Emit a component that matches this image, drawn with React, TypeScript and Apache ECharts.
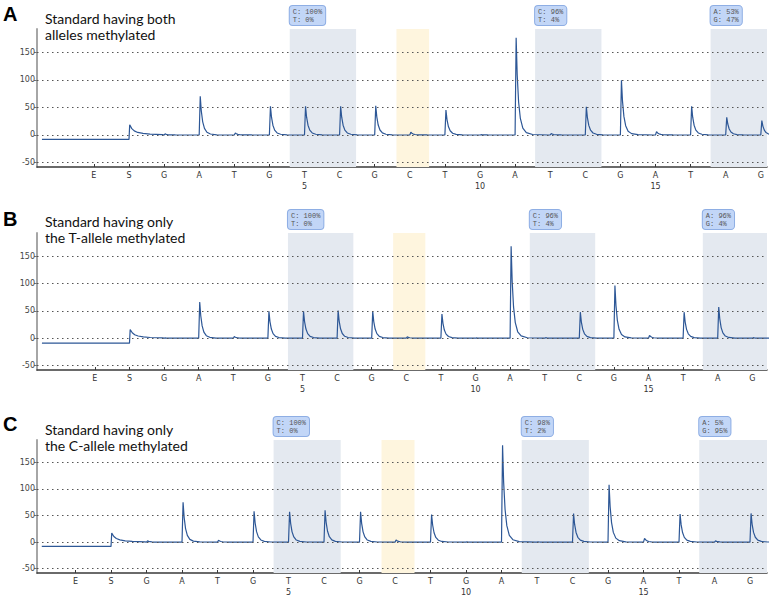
import React, { useEffect, useRef } from 'react';
import * as echarts from 'echarts';

// ---------- data ----------
const dispensationOrder = ['E', 'S', 'G', 'A', 'T', 'G', 'T', 'C', 'G', 'C', 'T', 'G', 'A', 'T', 'C', 'G', 'A', 'T', 'A', 'G'];
const dispensationPositions = [-1, 0, 1, 2, 3, 4, 5, 6, 7, 8, 9, 10, 11, 12, 13, 14, 15, 16, 17, 18];
const numberedPositions = [5, 10, 15];
const yTickValues = [-50, 0, 50, 100, 150];

// peak heights at positions S(0) .. G(18)
const peaksA = [18.5, 2, 70, 3.5, 52, 52, 52, 53, 5, 45, 0.5, 176, 2.4, 51, 99, 6, 52, 32, 26];
const peaksB = [16, 0.5, 66, 3, 49, 49, 50.5, 49, 2.5, 44, 0.5, 168, 1, 47.5, 96, 5, 47.5, 57, 1];
const peaksC = [17, 2.4, 75, 3.6, 58, 57, 60, 57, 4, 52, 0.5, 182, 0.5, 53.6, 108, 7, 53, 2.4, 54];

const baselineA = -8;
const baselineB = -9;
const baselineC = -8;

// peak shape (fraction of height at offset after dispensation)
const peakOffsets = [0, 0.03, 0.06, 0.1, 0.15, 0.22, 0.32, 0.5, 0.95];
const peakProfile = [0, 1, 0.62, 0.34, 0.17, 0.07, 0.025, 0.005, 0];
const substrateOffsets = [0, 0.02, 0.08, 0.15, 0.25, 0.4, 0.6, 0.95];
const substrateProfile = [0, 1, 0.62, 0.4, 0.25, 0.15, 0.08, 0.03];

const labelsA = ['C: 100%\nT: 0%', 'C: 96%\nT: 4%', 'A: 53%\nG: 47%'];
const labelsB = ['C: 100%\nT: 0%', 'C: 96%\nT: 4%', 'A: 96%\nG: 4%'];
const labelsC = ['C: 100%\nT: 0%', 'C: 98%\nT: 2%', 'A: 5%\nG: 95%'];

const grayRegionStarts = [4.58, 11.57, 16.57];
const grayRegionEnds = [6.47, 13.46, 99];
const orangeRegion = [7.62, 8.55];

// ---------- layout ----------
const Y_MIN = -58;
const Y_MAX = 192;

const panels = [
  { letter: 'A', title: 'Standard having both\nalleles methylated', top: 29, height: 138, xMin: -2.621, xMax: 18.177, traceStart: -2.48, peaks: peaksA, base: baselineA, labels: labelsA, letterY: 13.5, titleY: 14 },
  { letter: 'B', title: 'Standard having only\nthe T-allele methylated', top: 233, height: 137, xMin: -2.673, xMax: 18.425, traceStart: -2.53, peaks: peaksB, base: baselineB, labels: labelsB, letterY: 218.5, titleY: 217.5 },
  { letter: 'C', title: 'Standard having only\nthe C-allele methylated', top: 440, height: 137, xMin: -2.085, xMax: 18.479, traceStart: -1.95, peaks: peaksC, base: baselineC, labels: labelsC, letterY: 424, titleY: 425 },
];

function buildTrace(base: number, start: number, heights: number[]) {
  const pts: number[][] = [[start, base]];
  heights.forEach((h, i) => {
    const offs = i === 0 ? substrateOffsets : peakOffsets;
    const prof = i === 0 ? substrateProfile : peakProfile;
    pts.push([i, i === 0 ? base : 0]);
    for (let k = 1; k < offs.length; k++) pts.push([i + offs[k], h * prof[k]]);
  });
  return pts;
}

export default function App() {
  const ref = useRef<HTMLDivElement>(null);
  useEffect(() => {
    if (!ref.current) return;
    const chart = echarts.init(ref.current, null, { renderer: 'svg' });

    const grids: any[] = [];
    const xAxes: any[] = [];
    const yAxes: any[] = [];
    const series: any[] = [];
    const graphics: any[] = [];

    panels.forEach((p, idx) => {
      grids.push({ left: 37, top: p.top, width: 730, height: p.height });
      xAxes.push({
        type: 'value', gridIndex: idx, min: p.xMin, max: p.xMax,
        axisLine: { show: true, onZero: false, lineStyle: { color: '#3a3a3a', width: 1.5 } },
        axisTick: { show: true, inside: true, length: 3, customValues: dispensationPositions, lineStyle: { color: '#3a3a3a' } },
        axisLabel: {
          customValues: dispensationPositions, fontSize: 8, color: '#333', margin: 3, lineHeight: 11,
          fontFamily: 'DejaVu Sans',
          formatter: (v: number) => {
            const d = Math.round(v);
            const letter = dispensationOrder[d + 1];
            return numberedPositions.includes(d) ? letter + '\n' + d : letter;
          },
        },
        splitLine: { show: false },
      });
      yAxes.push({
        type: 'value', gridIndex: idx, min: Y_MIN, max: Y_MAX,
        axisLine: { show: true, onZero: false, lineStyle: { color: '#a6a6a6', width: 2 } },
        axisTick: { show: true, length: 3, customValues: yTickValues, lineStyle: { color: '#777' } },
        axisLabel: { customValues: yTickValues, fontSize: 8, color: '#444', margin: 2, fontFamily: 'DejaVu Sans' },
        splitLine: { show: false },
      });

      const areaData: any[] = grayRegionStarts.map((s, k) => [
        {
          xAxis: s, yAxis: Y_MIN,
          itemStyle: { color: '#e4e9f0' },
          label: {
            show: true, position: [0, -23], formatter: p.labels[k],
            fontFamily: 'Liberation Mono', fontSize: 7, lineHeight: 8, color: '#555',
            backgroundColor: '#c2d6f7', borderColor: '#8eaee4', borderWidth: 1, borderRadius: 3,
            padding: [2, 3, 1, 3],
          },
        },
        { xAxis: Math.min(grayRegionEnds[k], p.xMax), yAxis: Y_MAX },
      ]);
      areaData.push([
        { xAxis: orangeRegion[0], yAxis: Y_MIN, itemStyle: { color: '#fef5de' }, label: { show: false } },
        { xAxis: orangeRegion[1], yAxis: Y_MAX },
      ]);

      series.push({
        type: 'line', xAxisIndex: idx, yAxisIndex: idx, z: 1, data: [],
        showSymbol: false, silent: true,
        markArea: { silent: true, data: areaData },
      });
      series.push({
        type: 'line', xAxisIndex: idx, yAxisIndex: idx, z: 2, data: [],
        showSymbol: false, silent: true,
        markLine: {
          silent: true, symbol: ['none', 'none'], label: { show: false },
          lineStyle: { type: [1.5, 3.5], color: '#555', width: 1 },
          data: yTickValues.map((v) => ({ yAxis: v })),
        },
      });
      series.push({
        type: 'line', xAxisIndex: idx, yAxisIndex: idx, z: 3,
        data: buildTrace(p.base, p.traceStart, p.peaks),
        showSymbol: false, symbol: 'none', clip: true,
        lineStyle: { color: '#2d5796', width: 1.2 },
      });

      graphics.push({
        type: 'text', left: 3, top: p.letterY - 10,
        style: { text: p.letter, font: 'bold 20px "Liberation Sans", Arial', fill: '#000' },
      });
      graphics.push({
        type: 'text', left: 45, top: p.titleY - 4,
        style: { text: p.title, font: '14px "Lato"', fill: '#111', lineHeight: 16 },
      });
    });

    chart.setOption({
      animation: false,
      backgroundColor: '#fff',
      grid: grids,
      xAxis: xAxes,
      yAxis: yAxes,
      series,
      graphic: graphics,
    });
    return () => chart.dispose();
  }, []);
  return <div ref={ref} style={{ width: 770, height: 598, position: 'fixed', left: 0, top: 0 }} />;
}
